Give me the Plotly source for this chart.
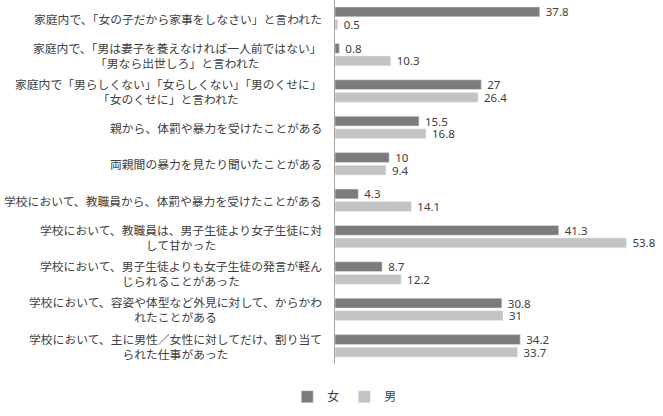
import plotly.graph_objects as go

categories = [
    "家庭内で、「女の子だから家事をしなさい」と言われた",
    "家庭内で、「男は妻子を養えなければ一人前ではない」<br>「男なら出世しろ」と言われた",
    "家庭内で「男らしくない」「女らしくない」「男のくせに」<br>「女のくせに」と言われた",
    "親から、体罰や暴力を受けたことがある",
    "両親間の暴力を見たり聞いたことがある",
    "学校において、教職員から、体罰や暴力を受けたことがある",
    "学校において、教職員は、男子生徒より女子生徒に対<br>して甘かった",
    "学校において、男子生徒よりも女子生徒の発言が軽ん<br>じられることがあった",
    "学校において、容姿や体型など外見に対して、からかわ<br>れたことがある",
    "学校において、主に男性／女性に対してだけ、割り当て<br>られた仕事があった",
]
female = [37.8, 0.8, 27, 15.5, 10, 4.3, 41.3, 8.7, 30.8, 34.2]
male = [0.5, 10.3, 26.4, 16.8, 9.4, 14.1, 53.8, 12.2, 31, 33.7]
series_names = ["女", "男"]

FONT = "Noto Sans CJK JP"
TXT = "#404040"

fig = go.Figure()
fig.add_trace(go.Bar(
    y=categories, x=female, name=series_names[0], orientation="h",
    marker=dict(color="#7b7b7b"),
    text=female, texttemplate="\u00a0%{x}", textposition="outside",
    constraintext="none",
    textfont=dict(family="Noto Sans", size=11.5, color=TXT), cliponaxis=False,
))
fig.add_trace(go.Bar(
    y=categories, x=male, name=series_names[1], orientation="h",
    marker=dict(color="#c3c3c3"),
    text=male, texttemplate="\u00a0%{x}", textposition="outside",
    constraintext="none",
    textfont=dict(family="Noto Sans", size=11.5, color=TXT), cliponaxis=False,
))

for c in categories:
    fig.add_annotation(
        x=0, xref="paper", y=c, yref="y", text=c, showarrow=False,
        xanchor="right", yanchor="middle", align="center", xshift=-11,
        font=dict(family=FONT, size=11.8, color=TXT),
    )

fig.update_layout(
    width=663, height=416,
    margin=dict(l=335, r=3, t=0, b=52),
    paper_bgcolor="white", plot_bgcolor="white",
    barmode="group", bargap=0.31, bargroupgap=0.22,
    showlegend=True,
    legend=dict(orientation="h", x=0.03, xanchor="center", y=-0.09, yanchor="middle",
                font=dict(family=FONT, size=12, color=TXT), itemwidth=30,
                traceorder="normal"),
    font=dict(family=FONT, color=TXT),
)
fig.update_xaxes(range=[0, 60], showticklabels=False, showgrid=False, zeroline=False, showline=False)
fig.update_yaxes(autorange="reversed", showticklabels=False, showgrid=False, zeroline=False,
                 showline=True, linecolor="#a6a6a6", linewidth=1, ticks="")

fig.write_html("out.html")
